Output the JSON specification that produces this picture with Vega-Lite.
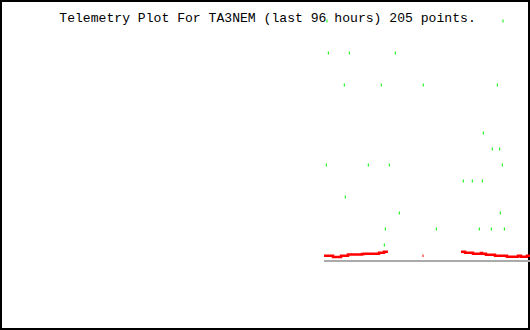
{
  "$schema": "https://vega.github.io/schema/vega-lite/v6.json",
  "width": 530,
  "height": 330,
  "padding": 0,
  "autosize": {"type": "none"},
  "background": "white",
  "config": {"view": {"stroke": "black", "strokeWidth": 4}},
  "datasets": {
    "green": [
      {"t": 59.23, "v": 15}, {"t": 91.11, "v": 15},
      {"t": 59.47, "v": 13}, {"t": 63.27, "v": 13}, {"t": 71.60, "v": 13},
      {"t": 62.36, "v": 11}, {"t": 69.06, "v": 11}, {"t": 76.67, "v": 11}, {"t": 90.08, "v": 11},
      {"t": 87.54, "v": 8},
      {"t": 89.17, "v": 7}, {"t": 90.51, "v": 7},
      {"t": 59.10, "v": 6}, {"t": 66.71, "v": 6}, {"t": 70.51, "v": 6}, {"t": 90.98, "v": 6},
      {"t": 83.92, "v": 5}, {"t": 85.55, "v": 5}, {"t": 87.36, "v": 5},
      {"t": 62.54, "v": 4},
      {"t": 72.33, "v": 3}, {"t": 90.62, "v": 3},
      {"t": 69.79, "v": 2}, {"t": 79.03, "v": 2}, {"t": 86.82, "v": 2}, {"t": 88.99, "v": 2}, {"t": 91.35, "v": 2},
      {"t": 69.61, "v": 1}
    ],
    "red": [
      {"seg": "A", "t": 58.69, "v": 0.325},
      {"seg": "A", "t": 60.32, "v": 0.25},
      {"seg": "A", "t": 61.77, "v": 0.33},
      {"seg": "A", "t": 63.03, "v": 0.41},
      {"seg": "A", "t": 65.57, "v": 0.44},
      {"seg": "A", "t": 65.93, "v": 0.46},
      {"seg": "A", "t": 68.65, "v": 0.52},
      {"seg": "A", "t": 69.55, "v": 0.58},
      {"seg": "A", "t": 70.27, "v": 0.58},
      {"seg": "B", "t": 83.50, "v": 0.58},
      {"seg": "B", "t": 84.23, "v": 0.52},
      {"seg": "B", "t": 85.67, "v": 0.46},
      {"seg": "B", "t": 87.12, "v": 0.5},
      {"seg": "B", "t": 87.30, "v": 0.46},
      {"seg": "B", "t": 88.02, "v": 0.39},
      {"seg": "B", "t": 89.66, "v": 0.33},
      {"seg": "B", "t": 91.83, "v": 0.27},
      {"seg": "B", "t": 93.83, "v": 0.33},
      {"seg": "B", "t": 94.37, "v": 0.27},
      {"seg": "B", "t": 95.46, "v": 0.33},
      {"seg": "B", "t": 96.0, "v": 0.33}
    ],
    "redDots": [
      {"t": 76.62, "v": 0.325}
    ],
    "base": [
      {"t0": 58.69, "t1": 96, "v": 0}
    ],
    "label": [
      {"t": 10.74, "v": 14.94, "text": "Telemetry Plot For TA3NEM (last 96 hours) 205 points."}
    ]
  },
  "encoding": {
    "x": {"type": "quantitative", "scale": {"domain": [0, 96], "nice": false, "zero": false}, "axis": null},
    "y": {"type": "quantitative", "scale": {"domain": [-4.3125, 16.3125], "nice": false, "zero": false}, "axis": null}
  },
  "layer": [
    {
      "data": {"name": "base"},
      "mark": {"type": "rule", "color": "#aaaaaa", "strokeWidth": 2},
      "encoding": {
        "x": {"field": "t0", "type": "quantitative"},
        "x2": {"field": "t1"},
        "y": {"field": "v", "type": "quantitative"}
      }
    },
    {
      "data": {"name": "red"},
      "mark": {"type": "line", "color": "#ff0000", "strokeWidth": 2.5, "interpolate": "step-after"},
      "encoding": {
        "x": {"field": "t", "type": "quantitative"},
        "y": {"field": "v", "type": "quantitative"},
        "detail": {"field": "seg"}
      }
    },
    {
      "data": {"name": "redDots"},
      "mark": {"type": "tick", "orient": "vertical", "color": "#ff0000", "size": 2.5, "thickness": 1, "opacity": 1},
      "encoding": {
        "x": {"field": "t", "type": "quantitative"},
        "y": {"field": "v", "type": "quantitative"}
      }
    },
    {
      "data": {"name": "green"},
      "mark": {"type": "tick", "orient": "vertical", "color": "#00f000", "size": 3, "thickness": 1, "opacity": 1},
      "encoding": {
        "x": {"field": "t", "type": "quantitative"},
        "y": {"field": "v", "type": "quantitative"}
      }
    },
    {
      "data": {"name": "label"},
      "mark": {"type": "text", "font": "Liberation Mono", "fontSize": 13.1, "color": "black", "align": "left", "baseline": "alphabetic"},
      "encoding": {
        "x": {"field": "t", "type": "quantitative"},
        "y": {"field": "v", "type": "quantitative"},
        "text": {"field": "text"}
      }
    }
  ]
}
